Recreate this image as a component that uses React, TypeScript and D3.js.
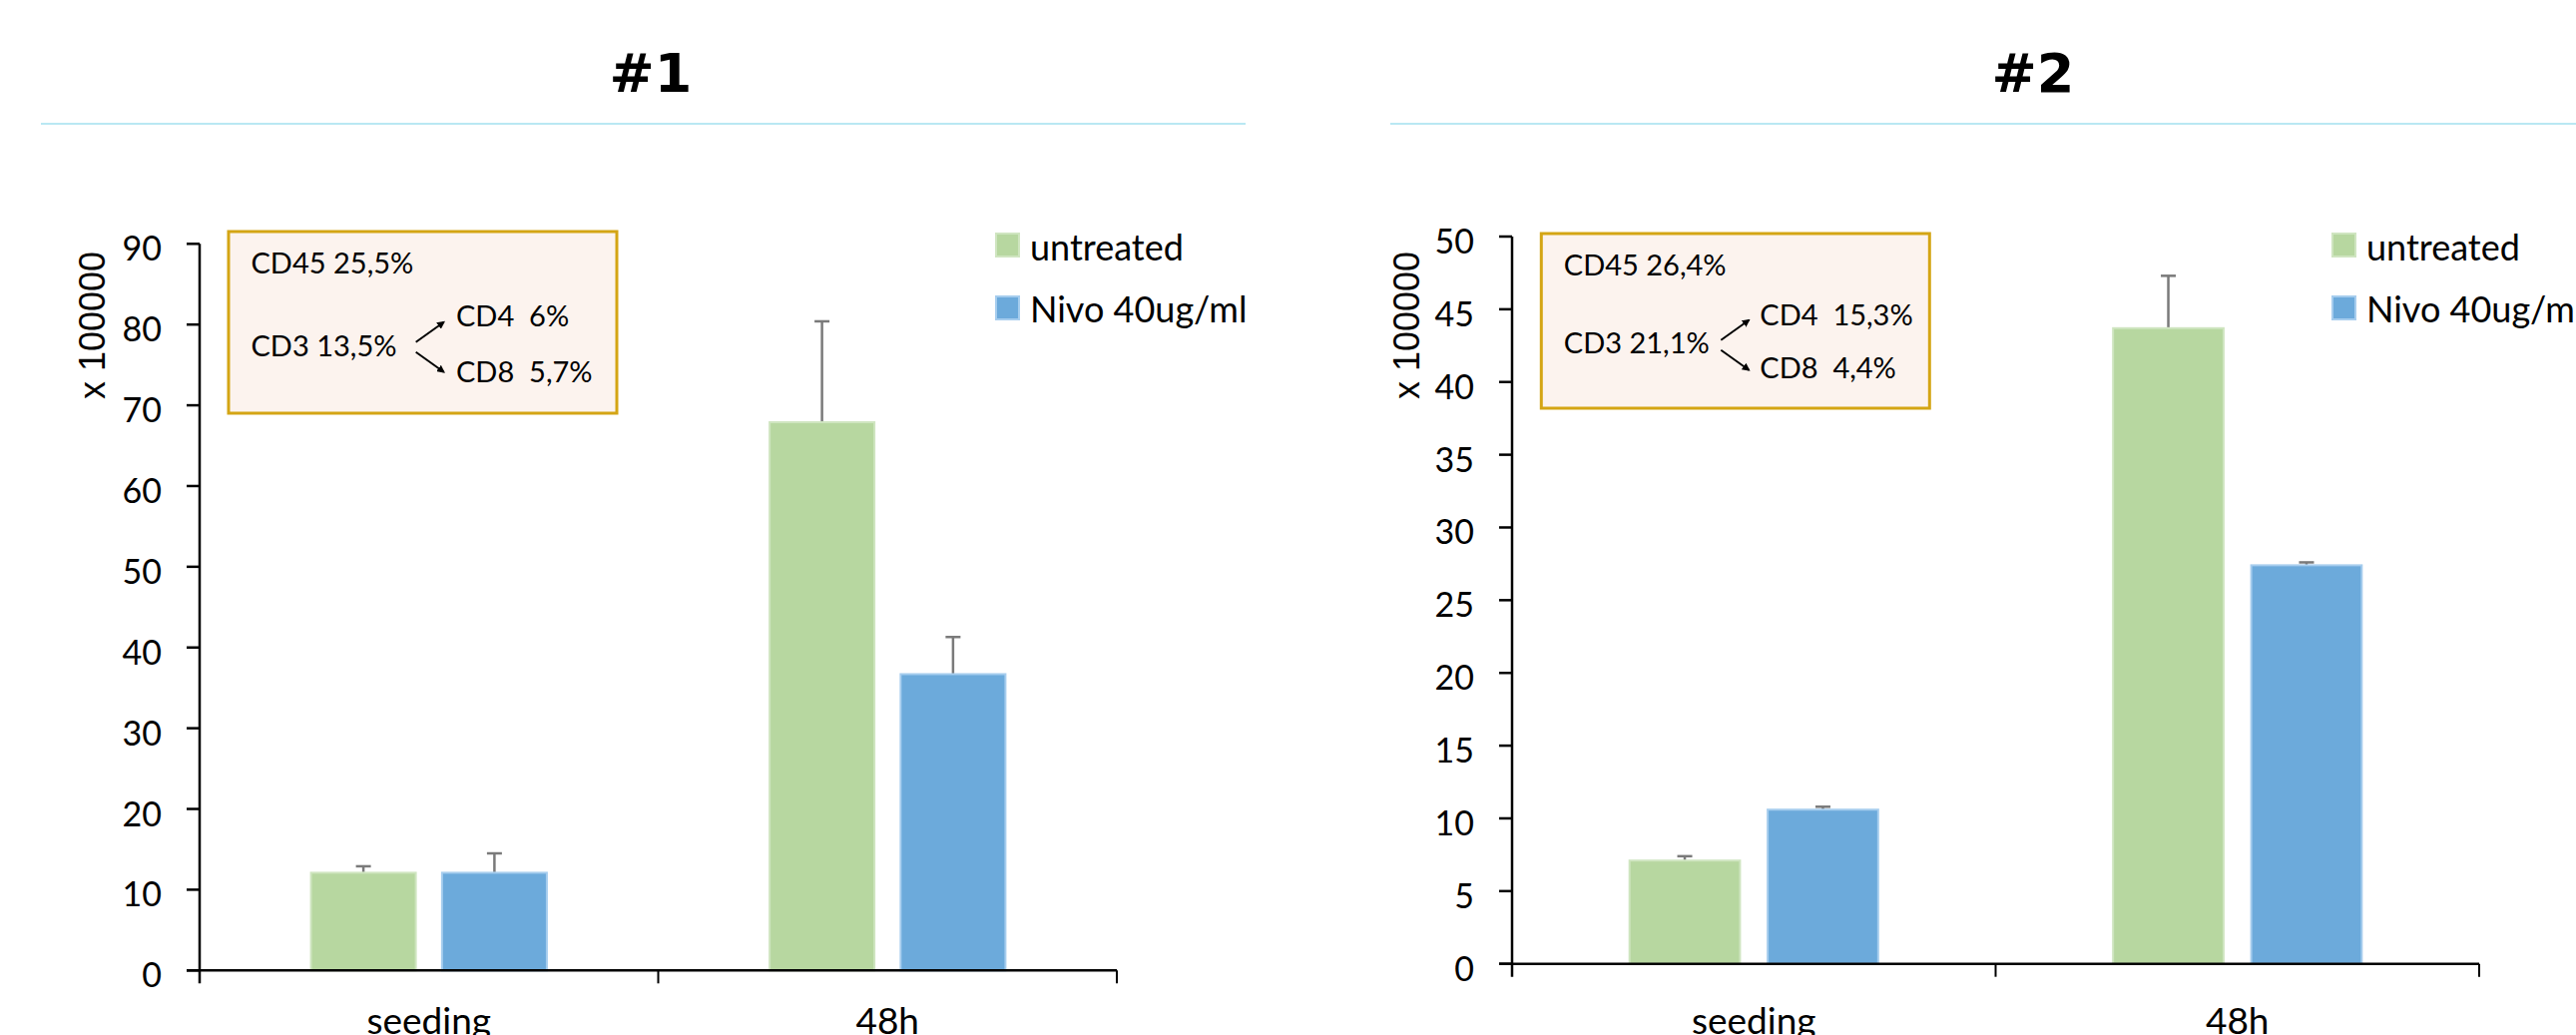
import React from 'react';
import * as d3 from 'd3';

const categories = ['seeding', '48h'];
const seriesNames = ['untreated', 'Nivo 40ug/ml'];

// chart #1 values (x 100000)
const c1Untreated = [12.1, 67.9];
const c1UntreatedErr = [0.8, 12.5];
const c1Nivo = [12.1, 36.7];
const c1NivoErr = [2.4, 4.6];
const c1Box = ['CD45 25,5%', 'CD3 13,5%', 'CD4  6%', 'CD8  5,7%'];

// chart #2 values (x 100000)
const c2Untreated = [7.1, 43.7];
const c2UntreatedErr = [0.3, 3.6];
const c2Nivo = [10.6, 27.4];
const c2NivoErr = [0.2, 0.2];
const c2Box = ['CD45 26,4%', 'CD3 21,1%', 'CD4  15,3%', 'CD8  4,4%'];

const colors = ['#b7d7a0', '#6caadb'];
const strokes = ['#cfe5c0', '#a6cdee'];
const FONT = 'Lato, "Open Sans", sans-serif';

const charts = [
  {
    title: '#1', titleX: 652, sep: [41, 1248],
    left: 200, right: 1119, top: 244.3, bottom: 972.3, yMax: 90, step: 10,
    vals: [c1Untreated, c1Nivo], errs: [c1UntreatedErr, c1NivoErr],
    box: { x: 229, y: 232, w: 389, h: 182, text: c1Box, subX: 228, cd3Y: 124.7, cd4Y: 94.7, cd8Y: 150.7, arX: 187.7, arY: 115.7 },
    legX: 998, labelX: 92,
  },
  {
    title: '#2', titleX: 2037, sep: [1393, 2581],
    left: 1515, right: 2484, top: 237, bottom: 965.7, yMax: 50, step: 5,
    vals: [c2Untreated, c2Nivo], errs: [c2UntreatedErr, c2NivoErr],
    box: { x: 1544.3, y: 234, w: 389, h: 175, text: c2Box, subX: 219, cd3Y: 120, cd4Y: 92, cd8Y: 145, arX: 180, arY: 111.7 },
    legX: 2337, labelX: 1409,
  },
];

const Chart = ({ c, idx }: { c: any; idx: number }) => {
  const y = d3.scaleLinear().domain([0, c.yMax]).range([c.bottom, c.top]);
  const x = d3.scaleBand<string>().domain(categories).range([c.left, c.right]).padding(0);
  const xs = d3.scaleBand<string>().domain(seriesNames).range([0, x.bandwidth()])
    .paddingInner(0.2).paddingOuter(0.85);
  const ticks = d3.range(0, c.yMax + c.step / 2, c.step);
  const b = c.box;
  const mid = x(categories[1]) as number;

  return (
    <g>
      <text x={c.titleX} y={92} textAnchor="middle" fontFamily='"DejaVu Sans", sans-serif'
        fontWeight={900} fontSize={54} fill="#000">{c.title}</text>
      <line x1={c.sep[0]} x2={c.sep[1]} y1={124} y2={124} stroke="#b9e8f3" strokeWidth={2} />

      {/* bars */}
      {seriesNames.map((s, si) => categories.map((cat, ci) => {
        const bx = (x(cat) as number) + (xs(s) as number);
        const v = c.vals[si][ci];
        const e = c.errs[si][ci];
        const cx = bx + xs.bandwidth() / 2;
        return (
          <g key={s + cat}>
            <line x1={cx} x2={cx} y1={y(v)} y2={y(v + e)} stroke="#7a7a7a" strokeWidth={2.5} />
            <line x1={cx - 7.5} x2={cx + 7.5} y1={y(v + e)} y2={y(v + e)} stroke="#7a7a7a" strokeWidth={2.5} />
            <rect x={bx} y={y(v)} width={xs.bandwidth()} height={c.bottom - y(v)}
              fill={colors[si]} stroke={strokes[si]} strokeWidth={2} />
          </g>
        );
      }))}

      {/* y axis */}
      <line x1={c.left} x2={c.left} y1={c.top} y2={c.bottom + 13} stroke="#000" strokeWidth={2.5} />
      {ticks.map(t => (
        <g key={t}>
          <line x1={c.left - 13} x2={c.left} y1={y(t)} y2={y(t)} stroke="#000" strokeWidth={2.5} />
          <text x={c.left - 38} y={y(t) + 17} textAnchor="end" fontFamily={FONT} fontSize={34} fill="#000">{t}</text>
        </g>
      ))}
      <text transform={`translate(${c.labelX},326) rotate(-90)`} textAnchor="middle" dominantBaseline="central"
        fontFamily='"Liberation Sans", Arial, sans-serif' fontSize={36} fill="#000">x 100000</text>

      {/* x axis */}
      <line x1={c.left - 13} x2={c.right} y1={c.bottom} y2={c.bottom} stroke="#000" strokeWidth={2.5} />
      {[mid, c.right].map(px => (
        <line key={px} x1={px} x2={px} y1={c.bottom} y2={c.bottom + 13} stroke="#000" strokeWidth={2} />
      ))}
      {categories.map(cat => (
        <text key={cat} x={(x(cat) as number) + x.bandwidth() / 2} y={1036} textAnchor="middle"
          fontFamily={FONT} fontSize={37} fill="#000">{cat}</text>
      ))}

      {/* info box */}
      <rect x={b.x} y={b.y} width={b.w} height={b.h} fill="#fcf3ee" stroke="#d4a514" strokeWidth={3} />
      <g fontFamily={FONT} fontSize={29} fill="#000">
        <text xmlSpace="preserve" x={b.x + 22.5} y={b.y + 42}>{b.text[0]}</text>
        <text xmlSpace="preserve" x={b.x + 22.5} y={b.y + b.cd3Y}>{b.text[1]}</text>
        <text xmlSpace="preserve" x={b.x + b.subX} y={b.y + b.cd4Y}>{b.text[2]}</text>
        <text xmlSpace="preserve" x={b.x + b.subX} y={b.y + b.cd8Y}>{b.text[3]}</text>
      </g>
      <line x1={b.x + b.arX} y1={b.y + b.arY - 5} x2={b.x + b.arX + 28} y2={b.y + b.arY - 25}
        stroke="#000" strokeWidth={2} markerEnd={`url(#arr${idx})`} />
      <line x1={b.x + b.arX} y1={b.y + b.arY + 5} x2={b.x + b.arX + 28} y2={b.y + b.arY + 25}
        stroke="#000" strokeWidth={2} markerEnd={`url(#arr${idx})`} />

      {/* legend */}
      {seriesNames.map((s, si) => (
        <g key={s}>
          <rect x={c.legX} y={234 + si * 63} width={23} height={23} fill={colors[si]} stroke={strokes[si]} strokeWidth={2} />
          <text x={c.legX + 34} y={261 + si * 62} fontFamily={FONT} fontSize={36} fill="#000">{s}</text>
        </g>
      ))}
    </g>
  );
};

export default function App() {
  return (
    <svg width={2581} height={1037} style={{ position: 'absolute', left: 0, top: 0, background: '#fff' }}>
      <defs>
        {charts.map((_, i) => (
          <marker key={i} id={`arr${i}`} viewBox="0 0 10 10" refX={8} refY={5} markerWidth={4} markerHeight={4} orient="auto">
            <path d="M0,0 L10,5 L0,10 z" fill="#000" />
          </marker>
        ))}
      </defs>
      <rect width={2581} height={1037} fill="#fff" />
      {charts.map((c, i) => <Chart key={i} c={c} idx={i} />)}
    </svg>
  );
}
